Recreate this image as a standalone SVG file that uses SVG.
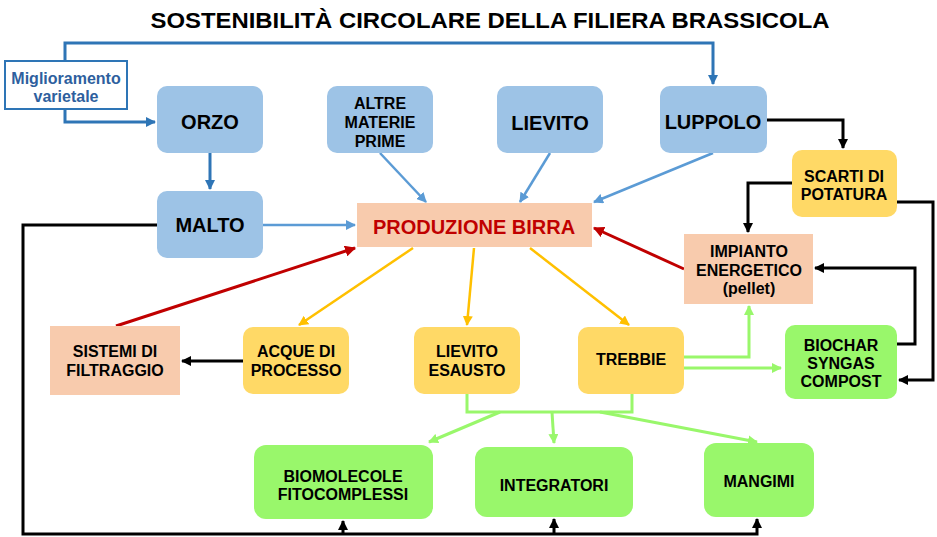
<svg xmlns="http://www.w3.org/2000/svg" width="937" height="537" viewBox="0 0 937 537">
<style>
text{font-family:"Liberation Sans",Arial,sans-serif;font-weight:bold;text-anchor:middle;fill:#000}
.t16{font-size:16px}
.t20{font-size:20px}
.blue{fill:#9DC3E6}
.orange{fill:#F8CBAD}
.yellow{fill:#FFD966}
.green{fill:#99F76B}
.c{fill:none;stroke-linejoin:miter}
.db{stroke:#2E75B6;stroke-width:3}
.lb{stroke:#5B9BD5;stroke-width:2.5}
.bk{stroke:#000;stroke-width:3}
.rd{stroke:#C00000;stroke-width:3}
.yl{stroke:#FFC000;stroke-width:2.5}
.gr{stroke:#99F76B;stroke-width:3}
</style>
<defs>
<marker id="mdb" viewBox="0 0 10 10" refX="9" refY="5" markerWidth="10" markerHeight="10" markerUnits="userSpaceOnUse" orient="auto"><path d="M0,0 L10,5 L0,10 z" fill="#2E75B6"/></marker>
<marker id="mlb" viewBox="0 0 10 10" refX="9" refY="5" markerWidth="10" markerHeight="10" markerUnits="userSpaceOnUse" orient="auto"><path d="M0,0 L10,5 L0,10 z" fill="#5B9BD5"/></marker>
<marker id="mbk" viewBox="0 0 10 10" refX="9" refY="5" markerWidth="10" markerHeight="10" markerUnits="userSpaceOnUse" orient="auto"><path d="M0,0 L10,5 L0,10 z" fill="#000"/></marker>
<marker id="mrd" viewBox="0 0 10 10" refX="9" refY="5" markerWidth="11" markerHeight="11" markerUnits="userSpaceOnUse" orient="auto"><path d="M0,0 L10,5 L0,10 z" fill="#C00000"/></marker>
<marker id="myl" viewBox="0 0 10 10" refX="9" refY="5" markerWidth="10" markerHeight="10" markerUnits="userSpaceOnUse" orient="auto"><path d="M0,0 L10,5 L0,10 z" fill="#FFC000"/></marker>
<marker id="mgr" viewBox="0 0 10 10" refX="9" refY="5" markerWidth="10" markerHeight="10" markerUnits="userSpaceOnUse" orient="auto"><path d="M0,0 L10,5 L0,10 z" fill="#99F76B"/></marker>
</defs>
<rect width="937" height="537" fill="#fff"/>
<text x="490" y="28" style="font-size:22px" textLength="679" lengthAdjust="spacingAndGlyphs">SOSTENIBILITÀ CIRCOLARE DELLA FILIERA BRASSICOLA</text>

<g id="connectors" class="c">
<path class="db" d="M65,61 V43 H713 V84" marker-end="url(#mdb)"/>
<path class="db" d="M65,109 V122 H155" marker-end="url(#mdb)"/>
<path class="db" d="M210,153 V189" marker-end="url(#mdb)"/>
<path class="lb" d="M263,225 H355" marker-end="url(#mlb)"/>
<path class="lb" d="M380,153 L426,202" marker-end="url(#mlb)"/>
<path class="lb" d="M550,153 L520,202" marker-end="url(#mlb)"/>
<path class="lb" d="M713,153 L594,202" marker-end="url(#mlb)"/>
<path class="bk" d="M767,120 H843 V148" marker-end="url(#mbk)"/>
<path class="bk" d="M792,183 H748 V232" marker-end="url(#mbk)"/>
<path class="bk" d="M897,202 H933 V380 H899" marker-end="url(#mbk)"/>
<path class="bk" d="M897,344 H915 V268 H815" marker-end="url(#mbk)"/>
<path class="bk" d="M157,225 H23 V534 H757 V519" marker-end="url(#mbk)"/>
<path class="bk" d="M343,534 V521" marker-end="url(#mbk)"/>
<path class="bk" d="M554,534 V519" marker-end="url(#mbk)"/>
<path class="bk" d="M243,361 H182" marker-end="url(#mbk)"/>
<path class="rd" d="M684,269 L594,228" marker-end="url(#mrd)"/>
<path class="rd" d="M116,326 L355,248" marker-end="url(#mrd)"/>
<path class="yl" d="M413,248 L299,325" marker-end="url(#myl)"/>
<path class="yl" d="M474,248 L467,325" marker-end="url(#myl)"/>
<path class="yl" d="M530,248 L629,325" marker-end="url(#myl)"/>
<path class="gr" d="M684,357 H749 V306" marker-end="url(#mgr)"/>
<path class="gr" d="M684,368 H781" marker-end="url(#mgr)"/>
<path class="gr" d="M467,394 V412 H632 V394"/>
<path class="gr" d="M500,412 L429,442" marker-end="url(#mgr)"/>
<path class="gr" d="M552,412 L554,443" marker-end="url(#mgr)"/>
<path class="gr" d="M600,412 L757,442" marker-end="url(#mgr)"/>
</g>

<g id="miglioramento">
<rect x="5" y="61" width="122" height="48" fill="#fff" stroke="#2E75B6" stroke-width="2"/>
<text x="66" y="84" class="t16" style="fill:#2E5F9E">Miglioramento</text>
<text x="66" y="102" class="t16" style="fill:#2E5F9E">varietale</text>
</g>
<g id="orzo"><rect class="blue" x="157" y="86" width="106" height="67" rx="10"/><text class="t20" x="210" y="129">ORZO</text></g>
<g id="malto"><rect class="blue" x="157" y="191" width="106" height="67" rx="10"/><text class="t20" x="210" y="232">MALTO</text></g>
<g id="altre"><rect class="blue" x="327" y="86" width="106" height="67" rx="10"/>
<text class="t16" x="380" y="109">ALTRE</text><text class="t16" x="380" y="128">MATERIE</text><text class="t16" x="380" y="147">PRIME</text></g>
<g id="lievito"><rect class="blue" x="497" y="86" width="106" height="67" rx="10"/><text class="t20" x="550" y="130">LIEVITO</text></g>
<g id="luppolo"><rect class="blue" x="660" y="86" width="107" height="67" rx="10"/><text class="t20" x="713" y="129">LUPPOLO</text></g>
<g id="produzione"><rect class="orange" x="357" y="203" width="235" height="44"/><text class="t20" x="474" y="234" style="fill:#C00000">PRODUZIONE BIRRA</text></g>
<g id="scarti"><rect class="yellow" x="792" y="150" width="105" height="67" rx="10"/>
<text class="t16" x="844" y="182">SCARTI DI</text><text class="t16" x="844" y="200">POTATURA</text></g>
<g id="impianto"><rect class="orange" x="684" y="234" width="129" height="70"/>
<text class="t16" x="749" y="257">IMPIANTO</text><text class="t16" x="749" y="276">ENERGETICO</text><text class="t16" x="749" y="294">(pellet)</text></g>
<g id="sistemi"><rect class="orange" x="50" y="326" width="130" height="69"/>
<text class="t16" x="115" y="357">SISTEMI DI</text><text class="t16" x="115" y="376">FILTRAGGIO</text></g>
<g id="acque"><rect class="yellow" x="243" y="327" width="106" height="67" rx="10"/>
<text class="t16" x="296" y="357">ACQUE DI</text><text class="t16" x="296" y="376">PROCESSO</text></g>
<g id="lievito-esausto"><rect class="yellow" x="414" y="327" width="106" height="67" rx="10"/>
<text class="t16" x="467" y="357">LIEVITO</text><text class="t16" x="467" y="376">ESAUSTO</text></g>
<g id="trebbie"><rect class="yellow" x="578" y="327" width="106" height="67" rx="10"/><text class="t16" x="631" y="365">TREBBIE</text></g>
<g id="biochar"><rect class="green" x="785" y="325" width="112" height="74" rx="10"/>
<text class="t16" x="841" y="351">BIOCHAR</text><text class="t16" x="841" y="369">SYNGAS</text><text class="t16" x="841" y="387">COMPOST</text></g>
<g id="biomolecole"><rect class="green" x="254" y="445" width="179" height="74" rx="12"/>
<text class="t16" x="343" y="482">BIOMOLECOLE</text><text class="t16" x="343" y="500">FITOCOMPLESSI</text></g>
<g id="integratori"><rect class="green" x="475" y="447" width="158" height="70" rx="12"/><text class="t16" x="554" y="491">INTEGRATORI</text></g>
<g id="mangimi"><rect class="green" x="704" y="443" width="110" height="74" rx="12"/><text class="t16" x="759" y="487">MANGIMI</text></g>
</svg>
